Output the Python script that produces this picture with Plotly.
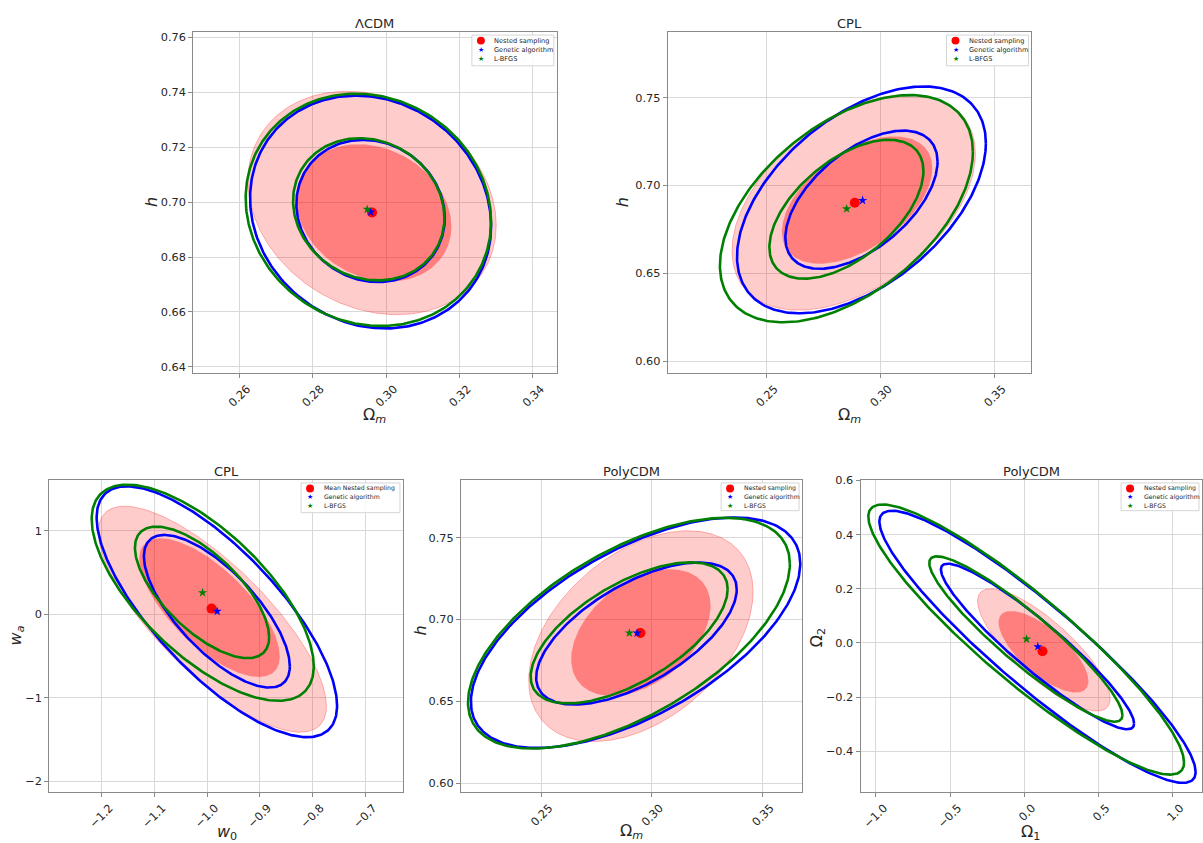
import numpy as np
import plotly.graph_objects as go

W, H = 1203, 843

# ------------------------------------------------------------------ data
# every contour: [centre_x, centre_y, half_extent_x, half_extent_y, correlation]
# ---- LCDM  (Omega_m , h)
lcdm_ns95 = [0.2962, 0.6997, 0.0338, 0.0407, -0.20]
lcdm_ns68 = [0.2967, 0.6961, 0.0211, 0.0250, -0.20]
lcdm_ga95 = [0.2958, 0.6964, 0.0328, 0.0424, -0.12]
lcdm_ga68 = [0.2958, 0.6968, 0.0202, 0.0259, -0.10]
lcdm_lb95 = [0.2952, 0.6972, 0.0334, 0.0423, -0.10]
lcdm_lb68 = [0.2953, 0.6974, 0.0206, 0.0259, -0.12]
lcdm_best_ns = [0.2962, 0.6962]
lcdm_best_ga = [0.2958, 0.6964]
lcdm_best_lb = [0.2949, 0.6974]

# ---- CPL  (Omega_m , h)
cplh_ns95 = [0.2882, 0.6904, 0.0534, 0.0613, 0.45]
cplh_ns68 = [0.2897, 0.6917, 0.0330, 0.0362, 0.50]
cplh_ga95 = [0.2916, 0.6918, 0.0546, 0.0645, 0.50]
cplh_ga68 = [0.2916, 0.6919, 0.0334, 0.0393, 0.55]
cplh_lb95 = [0.2850, 0.6868, 0.0555, 0.0646, 0.50]
cplh_lb68 = [0.2850, 0.6865, 0.0338, 0.0395, 0.55]
cplh_best_ns = [0.2887, 0.6902]
cplh_best_ga = [0.2921, 0.6915]
cplh_best_lb = [0.2851, 0.6867]

# ---- CPL  (w0 , wa)
cplw_ns95 = [-0.9901, -0.0605, 0.2162, 1.3535, -0.77]
cplw_ns68 = [-0.9955, 0.0780, 0.1332, 0.8310, -0.70]
cplw_ga95 = [-0.9816, 0.0287, 0.2279, 1.5016, -0.75]
cplw_ga68 = [-0.9816, 0.0345, 0.1383, 0.9140, -0.72]
cplw_lb95 = [-1.0084, 0.2560, 0.2105, 1.2940, -0.68]
cplw_lb68 = [-1.0097, 0.2600, 0.1272, 0.7875, -0.68]
cplw_best_ns = [-0.9917, 0.066]
cplw_best_ga = [-0.9810, 0.034]
cplw_best_lb = [-1.0087, 0.256]

# ---- PolyCDM  (Omega_m , h)
polyh_ns95 = [0.2950, 0.6898, 0.0507, 0.0644, 0.42]
polyh_ns68 = [0.2950, 0.6920, 0.0315, 0.0387, 0.42]
polyh_ga95 = [0.2926, 0.6919, 0.0744, 0.0704, 0.60]
polyh_ga68 = [0.2930, 0.6914, 0.0453, 0.0434, 0.62]
polyh_lb95 = [0.2896, 0.6916, 0.0727, 0.0705, 0.60]
polyh_lb68 = [0.2897, 0.6918, 0.0445, 0.0431, 0.62]
polyh_best_ns = [0.2948, 0.6917]
polyh_best_ga = [0.2933, 0.6917]
polyh_best_lb = [0.2898, 0.6917]

# ---- PolyCDM  (Omega_1 , Omega_2)
polyo_ns95 = [0.1326, -0.0256, 0.4472, 0.2256, -0.80]
polyo_ns68 = [0.1303, -0.0323, 0.3034, 0.1506, -0.72]
polyo_ga95 = [0.0899, -0.0140, 1.0670, 0.5018, -0.92]
polyo_ga68 = [0.0899, -0.0128, 0.6517, 0.3055, -0.93]
polyo_lb95 = [0.0135, 0.0128, 1.0652, 0.4982, -0.91]
polyo_lb68 = [0.0113, 0.0146, 0.6517, 0.3049, -0.92]
polyo_best_ns = [0.1236, -0.0305]
polyo_best_ga = [0.0921, -0.0134]
polyo_best_lb = [0.0157, 0.0146]

titles = ["ΛCDM", "CPL", "CPL", "PolyCDM", "PolyCDM"]
x_titles = ["Ω<sub><i>m</i></sub>", "Ω<sub><i>m</i></sub>", "<i>w</i><sub>0</sub>",
            "Ω<sub><i>m</i></sub>", "Ω<sub>1</sub>"]
y_titles = ["<i>h</i>", "<i>h</i>", "<i>w</i><sub><i>a</i></sub>", "<i>h</i>", "Ω<sub>2</sub>"]
legend_labels = [
    ["Nested sampling", "Genetic algorithm", "L-BFGS"],
    ["Nested sampling", "Genetic algorithm", "L-BFGS"],
    ["Mean Nested sampling", "Genetic algorithm", "L-BFGS"],
    ["Nested sampling", "Genetic algorithm", "L-BFGS"],
    ["Nested sampling", "Genetic algorithm", "L-BFGS"],
]

# --------------------------------------------------------------- layout
# plot-area boxes in pixels: left, top, right, bottom
boxes = [(193.3, 26.7, 557.3, 370.0), (668.3, 26.7, 1032.3, 370.0),
         (49.3, 478.3, 403.3, 792.7), (461.3, 478.3, 802.7, 792.7),
         (861.3, 478.3, 1203.0, 792.7)]
x_ranges = [[0.2475, 0.3465], [0.2066, 0.3662], [-1.2993, -0.6288],
            [0.2137, 0.3678], [-1.104, 1.2]]
y_ranges = [[0.6378, 0.7618], [0.5934, 0.787], [-2.131, 1.602],
            [0.5945, 0.785], [-0.55, 0.6]]
x_ticks = [dict(tick0=0.26, dtick=0.02, tickformat=".2f"),
           dict(tick0=0.25, dtick=0.05, tickformat=".2f"),
           dict(tick0=-1.2, dtick=0.1, tickformat=".1f"),
           dict(tick0=0.25, dtick=0.05, tickformat=".2f"),
           dict(tick0=-1.0, dtick=0.5, tickformat=".1f")]
y_ticks = [dict(tick0=0.64, dtick=0.02, tickformat=".2f"),
           dict(tick0=0.60, dtick=0.05, tickformat=".2f"),
           dict(tick0=-2, dtick=1, tickformat="d"),
           dict(tick0=0.60, dtick=0.05, tickformat=".2f"),
           dict(tick0=-0.4, dtick=0.2, tickformat=".1f")]
x_title_pos = [(375, 413), (850, 413), (226.7, 833), (631.7, 832), (1031.7, 833)]
y_title_pos = [(151.7, 198), (623.3, 198), (16.7, 635), (421, 630), (818.3, 637)]
legend_geom = [  # width, row spacing, font size, height
    (82, 9.3, 6.6, 31), (82, 9.3, 6.6, 31), (99, 8.7, 6.2, 30),
    (78, 8.7, 6.2, 28), (78, 8.7, 6.2, 28)]

panels = [
    (lcdm_ns95, lcdm_ns68, lcdm_ga95, lcdm_ga68, lcdm_lb95, lcdm_lb68,
     lcdm_best_ns, lcdm_best_ga, lcdm_best_lb),
    (cplh_ns95, cplh_ns68, cplh_ga95, cplh_ga68, cplh_lb95, cplh_lb68,
     cplh_best_ns, cplh_best_ga, cplh_best_lb),
    (cplw_ns95, cplw_ns68, cplw_ga95, cplw_ga68, cplw_lb95, cplw_lb68,
     cplw_best_ns, cplw_best_ga, cplw_best_lb),
    (polyh_ns95, polyh_ns68, polyh_ga95, polyh_ga68, polyh_lb95, polyh_lb68,
     polyh_best_ns, polyh_best_ga, polyh_best_lb),
    (polyo_ns95, polyo_ns68, polyo_ga95, polyo_ga68, polyo_lb95, polyo_lb68,
     polyo_best_ns, polyo_best_ga, polyo_best_lb),
]


def ellipse(p, n=300):
    cx, cy, sx, sy, r = p
    t = np.linspace(0, 2 * np.pi, n)
    return (cx + sx * np.cos(t),
            cy + sy * (r * np.cos(t) + np.sqrt(1 - r * r) * np.sin(t)))


def px(x):
    return x / W


def py(y):
    return 1 - y / H


FONT = "DejaVu Sans, Liberation Sans, sans-serif"
TXT = "#262626"

fig = go.Figure()
annotations = []
shapes = []
layout_axes = {}

for i, (pan, box) in enumerate(zip(panels, boxes)):
    k = "" if i == 0 else str(i + 1)
    xa, ya = "x" + k, "y" + k
    ns95, ns68, ga95, ga68, lb95, lb68, bns, bga, blb = pan

    x, y = ellipse(ns95)
    fig.add_trace(go.Scatter(x=x, y=y, xaxis=xa, yaxis=ya, mode="lines", fill="toself",
                             fillcolor="rgba(255,0,0,0.2)",
                             line=dict(color="rgba(255,0,0,0.28)", width=1),
                             hoverinfo="skip", showlegend=False))
    x, y = ellipse(ns68)
    fig.add_trace(go.Scatter(x=x, y=y, xaxis=xa, yaxis=ya, mode="lines", fill="toself",
                             fillcolor="rgba(255,0,0,0.375)",
                             line=dict(color="rgba(255,0,0,0.0)", width=0),
                             hoverinfo="skip", showlegend=False))
    for p, c in ((ga95, "#0000ff"), (ga68, "#0000ff"), (lb95, "#008000"), (lb68, "#008000")):
        x, y = ellipse(p)
        fig.add_trace(go.Scatter(x=x, y=y, xaxis=xa, yaxis=ya, mode="lines",
                                 line=dict(color=c, width=2.6), hoverinfo="skip",
                                 showlegend=False))
    fig.add_trace(go.Scatter(x=[bns[0]], y=[bns[1]], xaxis=xa, yaxis=ya, mode="markers",
                             marker=dict(color="#ff0000", size=10, symbol="circle"),
                             name=legend_labels[i][0], showlegend=False))
    fig.add_trace(go.Scatter(x=[bga[0]], y=[bga[1]], xaxis=xa, yaxis=ya, mode="markers",
                             marker=dict(color="#0000ff", size=7, symbol="star"),
                             name=legend_labels[i][1], showlegend=False))
    fig.add_trace(go.Scatter(x=[blb[0]], y=[blb[1]], xaxis=xa, yaxis=ya, mode="markers",
                             marker=dict(color="#008000", size=7, symbol="star"),
                             name=legend_labels[i][2], showlegend=False))

    L, T, R, B = box
    common = dict(showline=True, mirror=True, linecolor="#8a8a8a", linewidth=1,
                  showgrid=True, gridcolor="#d9d9d9", gridwidth=1, zeroline=False,
                  ticks="outside", ticklen=4, tickcolor="#8a8a8a", tickwidth=1,
                  tickfont=dict(family=FONT, size=11.3, color=TXT), tickmode="linear")
    layout_axes["xaxis" + k] = dict(domain=[px(L), min(px(R), 1.0)], range=x_ranges[i],
                                    anchor=ya, tickangle=-45, ticklabelshift=8,
                                    **x_ticks[i], **common)
    layout_axes["yaxis" + k] = dict(domain=[py(B), py(T)], range=y_ranges[i],
                                    anchor=xa, **y_ticks[i], **common)

    # panel title
    annotations.append(dict(text=titles[i], xref="paper", yref="paper",
                            x=px((L + R) / 2), y=py(T - 9), xanchor="center", yanchor="middle",
                            showarrow=False, font=dict(family=FONT, size=13, color=TXT)))
    # axis titles
    annotations.append(dict(text=x_titles[i], xref="paper", yref="paper",
                            x=px(x_title_pos[i][0]), y=py(x_title_pos[i][1]),
                            xanchor="center", yanchor="middle", showarrow=False,
                            font=dict(family=FONT, size=16, color=TXT)))
    annotations.append(dict(text=y_titles[i], xref="paper", yref="paper",
                            x=px(y_title_pos[i][0]), y=py(y_title_pos[i][1]),
                            xanchor="center", yanchor="middle", showarrow=False,
                            textangle=-90, font=dict(family=FONT, size=16, color=TXT)))

    # legend box
    lw, rs, fs, lh = legend_geom[i]
    lr = min(R, 1203) - 3
    ll = lr - lw
    lt = T + 2.6
    shapes.append(dict(type="rect", xref="paper", yref="paper",
                       x0=px(ll), x1=px(lr), y0=py(lt + lh), y1=py(lt),
                       line=dict(color="#d5d5d5", width=1),
                       fillcolor="rgba(255,255,255,0.85)", layer="above"))
    # legend: red dot as a circle shape, stars as glyphs
    mx = ll + 9
    r0 = lt + 5.6
    shapes.append(dict(type="circle", xref="paper", yref="paper",
                       x0=px(mx - 4), x1=px(mx + 4), y0=py(r0 + 4), y1=py(r0 - 4),
                       fillcolor="#ff0000", line=dict(width=0), layer="above"))
    for j, c in ((1, "#0000ff"), (2, "#008000")):
        annotations.append(dict(text="★", xref="paper", yref="paper", x=px(mx),
                                y=py(r0 + j * rs), xanchor="center", yanchor="middle",
                                showarrow=False,
                                font=dict(family="DejaVu Sans", size=7, color=c)))
    for j in range(3):
        annotations.append(dict(text=legend_labels[i][j], xref="paper", yref="paper",
                                x=px(ll + 20.5), y=py(r0 + j * rs), xanchor="left",
                                yanchor="middle", showarrow=False,
                                font=dict(family=FONT, size=fs, color=TXT)))

fig.update_layout(width=W, height=H, margin=dict(l=0, r=0, t=0, b=0),
                  paper_bgcolor="white", plot_bgcolor="white",
                  showlegend=False, annotations=annotations, shapes=shapes,
                  **layout_axes)

fig.write_html("out.html", config={"displayModeBar": False},
               post_script="document.body.style.margin='0px';"
                           "document.body.style.overflow='hidden';")
